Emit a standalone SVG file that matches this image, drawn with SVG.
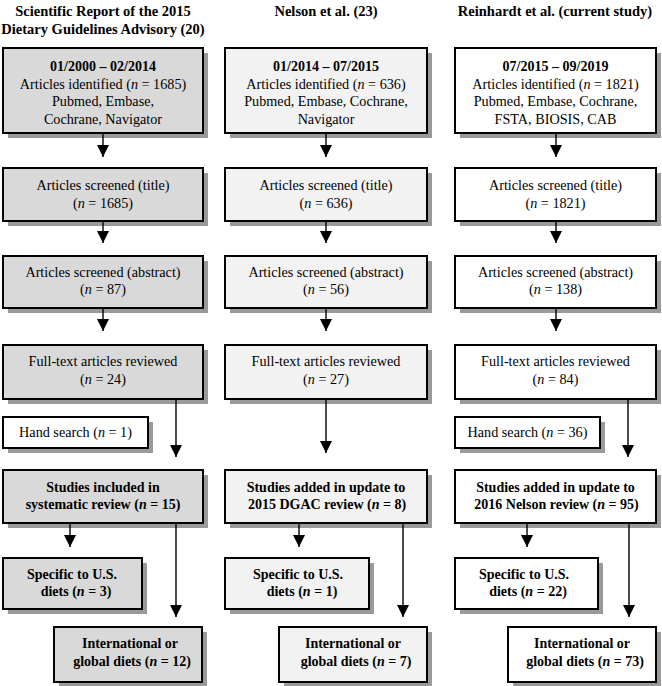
<svg xmlns="http://www.w3.org/2000/svg" width="662" height="686" viewBox="0 0 662 686">
<style>
.sh{fill:#9a9a9a}
.c1{fill:#d9d9d9;stroke:#000;stroke-width:2}
.c2{fill:#f2f2f2;stroke:#000;stroke-width:2}
.c3{fill:#ffffff;stroke:#000;stroke-width:2}
text{font-family:"Liberation Serif","Times New Roman",serif;font-size:14.2px;fill:#000;text-anchor:middle}
.b{font-weight:bold;font-size:14px}
.h{font-weight:bold;font-size:14.5px}
.i{font-style:italic}
.cn line{stroke:#000;stroke-width:1.4;marker-end:url(#ah)}
</style>
<defs>
<marker id="ah" markerUnits="userSpaceOnUse" markerWidth="12" markerHeight="12" refX="12" refY="6" orient="auto">
<path d="M0,0 L12,6 L0,12 z" fill="#000"/>
</marker>
</defs>
<rect width="662" height="686" fill="#fff"/>
<g id="headers">
<text class="h" x="103" y="16">Scientific Report of the 2015</text>
<text class="h" x="103" y="34">Dietary Guidelines Advisory (20)</text>
<text class="h" x="326" y="16">Nelson et al. (23)</text>
<text class="h" x="555" y="16">Reinhardt et al. (current study)</text>
</g>
<!-- Column 1 -->
<g id="c1-identified">
<rect class="sh" x="8" y="53" width="200" height="85"/>
<rect class="c1" x="3" y="48" width="200" height="85"/>
<text class="b" x="103" y="71">01/2000 – 02/2014</text>
<text x="103" y="89">Articles identified (<tspan class="i">n</tspan> = 1685)</text>
<text x="103" y="106">Pubmed, Embase,</text>
<text x="103" y="124">Cochrane, Navigator</text>
</g>
<g id="c1-title">
<rect class="sh" x="8" y="173" width="200" height="53"/>
<rect class="c1" x="3" y="168" width="200" height="53"/>
<text x="103" y="190">Articles screened (title)</text>
<text x="103" y="208">(<tspan class="i">n</tspan> = 1685)</text>
</g>
<g id="c1-abstract">
<rect class="sh" x="8" y="261" width="200" height="52"/>
<rect class="c1" x="3" y="256" width="200" height="52"/>
<text x="103" y="277">Articles screened (abstract)</text>
<text x="103" y="294">(<tspan class="i">n</tspan> = 87)</text>
</g>
<g id="c1-fulltext">
<rect class="sh" x="8" y="350" width="200" height="54"/>
<rect class="c1" x="3" y="345" width="200" height="54"/>
<text x="103" y="366">Full-text articles reviewed</text>
<text x="103" y="384">(<tspan class="i">n</tspan> = 24)</text>
</g>
<g id="c1-hand">
<rect class="sh" x="8" y="422" width="145" height="31"/>
<rect class="c3" x="3" y="417" width="145" height="31"/>
<text x="75.5" y="437">Hand search (<tspan class="i">n</tspan> = 1)</text>
</g>
<g id="c1-included">
<rect class="sh" x="8" y="475" width="200" height="53"/>
<rect class="c1" x="3" y="470" width="200" height="53"/>
<text class="b" x="103" y="492">Studies included in</text>
<text class="b" x="103" y="509">systematic review (<tspan class="i">n</tspan> = 15)</text>
</g>
<g id="c1-us">
<rect class="sh" x="8" y="563" width="139" height="51"/>
<rect class="c1" x="3" y="558" width="139" height="51"/>
<text class="b" x="72" y="579">Specific to U.S.</text>
<text class="b" x="76" y="596">diets  (<tspan class="i">n</tspan> = 3)</text>
</g>
<g id="c1-intl">
<rect class="sh" x="59" y="632" width="148" height="55"/>
<rect class="c1" x="54" y="627" width="148" height="55"/>
<text class="b" x="130" y="648">International or</text>
<text class="b" x="132" y="666">global diets (<tspan class="i">n</tspan> = 12)</text>
</g>
<!-- Column 2 -->
<g id="c2-identified">
<rect class="sh" x="230" y="53" width="202" height="85"/>
<rect class="c2" x="225" y="48" width="202" height="85"/>
<text class="b" x="326" y="71">01/2014 – 07/2015</text>
<text x="326" y="89">Articles identified (<tspan class="i">n</tspan> = 636)</text>
<text x="326" y="106">Pubmed, Embase, Cochrane,</text>
<text x="326" y="124">Navigator</text>
</g>
<g id="c2-title">
<rect class="sh" x="230" y="173" width="202" height="53"/>
<rect class="c2" x="225" y="168" width="202" height="53"/>
<text x="326" y="190">Articles screened (title)</text>
<text x="326" y="208">(<tspan class="i">n</tspan> = 636)</text>
</g>
<g id="c2-abstract">
<rect class="sh" x="230" y="261" width="202" height="52"/>
<rect class="c2" x="225" y="256" width="202" height="52"/>
<text x="326" y="277">Articles screened (abstract)</text>
<text x="326" y="294">(<tspan class="i">n</tspan> = 56)</text>
</g>
<g id="c2-fulltext">
<rect class="sh" x="230" y="350" width="202" height="54"/>
<rect class="c2" x="225" y="345" width="202" height="54"/>
<text x="326" y="366">Full-text articles reviewed</text>
<text x="326" y="384">(<tspan class="i">n</tspan> = 27)</text>
</g>
<g id="c2-added">
<rect class="sh" x="230" y="475" width="202" height="53"/>
<rect class="c2" x="225" y="470" width="202" height="53"/>
<text class="b" x="326" y="492">Studies added in update to</text>
<text class="b" x="327" y="509">2015 DGAC review (<tspan class="i">n</tspan> = 8)</text>
</g>
<g id="c2-us">
<rect class="sh" x="230" y="563" width="144" height="51"/>
<rect class="c2" x="225" y="558" width="144" height="51"/>
<text class="b" x="298" y="579">Specific to U.S.</text>
<text class="b" x="302" y="596">diets  (<tspan class="i">n</tspan> = 1)</text>
</g>
<g id="c2-intl">
<rect class="sh" x="284" y="632" width="148" height="55"/>
<rect class="c2" x="279" y="627" width="148" height="55"/>
<text class="b" x="353" y="648">International or</text>
<text class="b" x="356" y="666">global diets (<tspan class="i">n</tspan> = 7)</text>
</g>
<!-- Column 3 -->
<g id="c3-identified">
<rect class="sh" x="460" y="53" width="201" height="85"/>
<rect class="c3" x="455" y="48" width="201" height="85"/>
<text class="b" x="555.5" y="71">07/2015 – 09/2019</text>
<text x="555.5" y="89">Articles identified (<tspan class="i">n</tspan> = 1821)</text>
<text x="555.5" y="106">Pubmed, Embase, Cochrane,</text>
<text x="555.5" y="124">FSTA, BIOSIS, CAB</text>
</g>
<g id="c3-title">
<rect class="sh" x="460" y="173" width="201" height="53"/>
<rect class="c3" x="455" y="168" width="201" height="53"/>
<text x="555.5" y="190">Articles screened (title)</text>
<text x="555.5" y="208">(<tspan class="i">n</tspan> = 1821)</text>
</g>
<g id="c3-abstract">
<rect class="sh" x="460" y="261" width="201" height="52"/>
<rect class="c3" x="455" y="256" width="201" height="52"/>
<text x="555.5" y="277">Articles screened (abstract)</text>
<text x="555.5" y="294">(<tspan class="i">n</tspan> = 138)</text>
</g>
<g id="c3-fulltext">
<rect class="sh" x="460" y="350" width="201" height="54"/>
<rect class="c3" x="455" y="345" width="201" height="54"/>
<text x="555.5" y="366">Full-text articles reviewed</text>
<text x="555.5" y="384">(<tspan class="i">n</tspan> = 84)</text>
</g>
<g id="c3-hand">
<rect class="sh" x="460" y="422" width="145" height="31"/>
<rect class="c3" x="455" y="417" width="145" height="31"/>
<text x="527.5" y="437">Hand search (<tspan class="i">n</tspan> = 36)</text>
</g>
<g id="c3-added">
<rect class="sh" x="460" y="475" width="201" height="53"/>
<rect class="c3" x="455" y="470" width="201" height="53"/>
<text class="b" x="555.5" y="492">Studies added in update to</text>
<text class="b" x="556.5" y="509">2016 Nelson review (<tspan class="i">n</tspan> = 95)</text>
</g>
<g id="c3-us">
<rect class="sh" x="460" y="563" width="143" height="51"/>
<rect class="c3" x="455" y="558" width="143" height="51"/>
<text class="b" x="524" y="579">Specific to U.S.</text>
<text class="b" x="528" y="596">diets (<tspan class="i">n</tspan> = 22)</text>
</g>
<g id="c3-intl">
<rect class="sh" x="513" y="632" width="148" height="55"/>
<rect class="c3" x="508" y="627" width="148" height="55"/>
<text class="b" x="582" y="648">International or</text>
<text class="b" x="585" y="666">global diets (<tspan class="i">n</tspan> = 73)</text>
</g>
<g id="connectors" class="cn">
<line x1="103" y1="133" x2="103" y2="157"/>
<line x1="103" y1="221" x2="103" y2="243"/>
<line x1="103" y1="308" x2="103" y2="331"/>
<line x1="176" y1="399" x2="176" y2="457"/>
<line x1="70" y1="523" x2="70" y2="547"/>
<line x1="176" y1="523" x2="176" y2="617"/>
<line x1="326" y1="133" x2="326" y2="157"/>
<line x1="326" y1="221" x2="326" y2="243"/>
<line x1="326" y1="308" x2="326" y2="331"/>
<line x1="326" y1="399" x2="326" y2="453"/>
<line x1="299" y1="523" x2="299" y2="547"/>
<line x1="403" y1="523" x2="403" y2="617"/>
<line x1="556" y1="133" x2="556" y2="157"/>
<line x1="556" y1="221" x2="556" y2="243"/>
<line x1="556" y1="308" x2="556" y2="331"/>
<line x1="628" y1="399" x2="628" y2="457"/>
<line x1="527" y1="523" x2="527" y2="547"/>
<line x1="629" y1="523" x2="629" y2="617"/>
</g>
</svg>
